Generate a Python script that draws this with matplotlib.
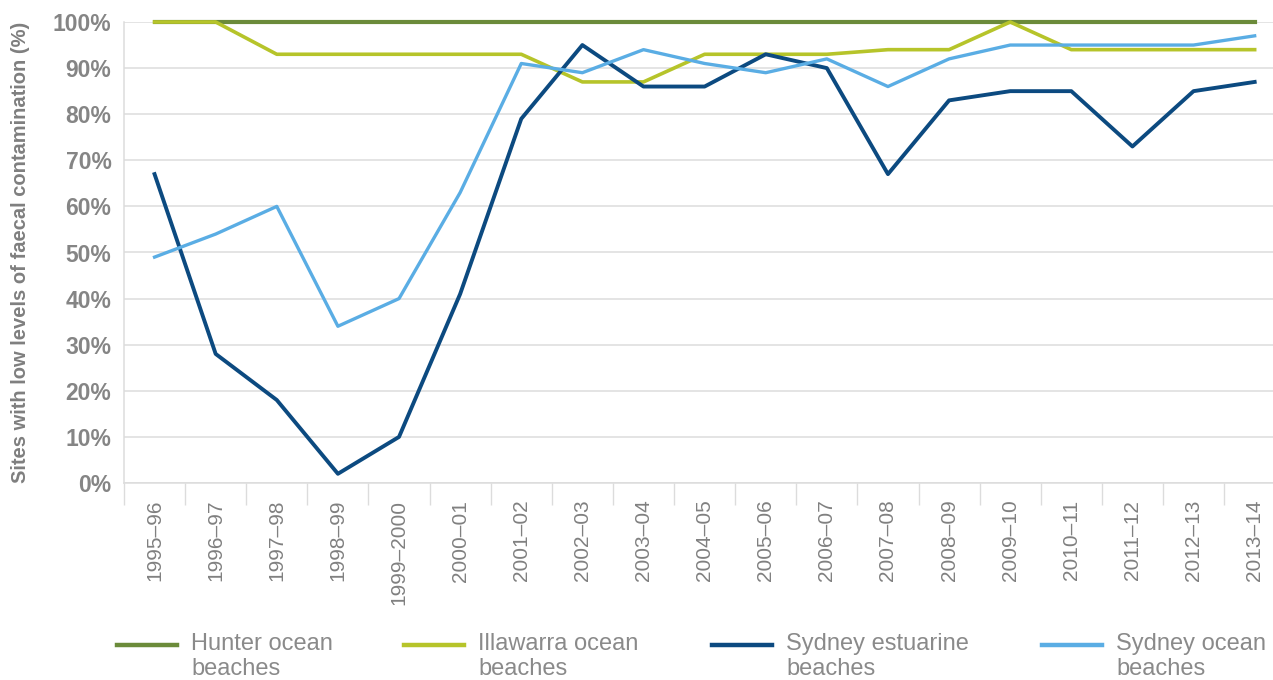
import matplotlib
matplotlib.use("Agg")
import matplotlib.pyplot as plt
from matplotlib.lines import Line2D

plt.rcParams['font.family'] = ['Liberation Sans', 'DejaVu Sans']

# 数据
years = ['1995–96', '1996–97', '1997–98', '1998–99', '1999–2000', '2000–01',
         '2001–02', '2002–03', '2003–04', '2004–05', '2005–06', '2006–07',
         '2007–08', '2008–09', '2009–10', '2010–11', '2011–12', '2012–13',
         '2013–14']
hunter = [100] * 19
illawarra = [100, 100, 93, 93, 93, 93, 93, 87, 87, 93, 93, 93, 94, 94, 100, 94, 94, 94, 94]
syd_estuarine = [67, 28, 18, 2, 10, 41, 79, 95, 86, 86, 93, 90, 67, 83, 85, 85, 73, 85, 87]
syd_ocean = [49, 54, 60, 34, 40, 63, 91, 89, 94, 91, 89, 92, 86, 92, 95, 95, 95, 95, 97]

series_labels = ['Hunter ocean\nbeaches', 'Illawarra ocean\nbeaches',
                 'Sydney estuarine\nbeaches', 'Sydney ocean\nbeaches']
series_colors = ['#6b8b3a', '#b6c42a', '#0c4a80', '#5aade4']
legend_x = [117, 404, 712, 1042]  # 图例起点 (像素)

W, H = 1273, 680
fig = plt.figure(figsize=(W / 100, H / 100), dpi=100)
ax_left = 124
ax = fig.add_axes([ax_left / W, 1 - 483 / H, 1 - ax_left / W, (483 - 22) / H])

x = list(range(len(years)))
for vals, col, lw in zip([hunter, illawarra, syd_estuarine, syd_ocean], series_colors,
                         [3.0, 2.6, 2.8, 2.4]):
    ax.plot(x, vals, color=col, lw=lw, clip_on=False, zorder=3)

ax.set_xlim(-0.5, 18.3)
ax.set_ylim(0, 100)
ax.set_yticks(range(0, 101, 10))
ax.set_yticklabels([f'{v}%' for v in range(0, 101, 10)], fontsize=16.5,
                   fontweight='bold', color='#858585')
ax.tick_params(axis='y', length=0, pad=9)
ax.grid(axis='y', color='#dcdcdc', lw=1.1)

ax.set_xticks(x)
ax.set_xticklabels(years, rotation=90, fontsize=15, color='#808080', va='top')
ax.tick_params(axis='x', which='major', length=0, pad=12)
ax.set_xticks([i - 0.5 for i in range(len(years))], minor=True)
ax.tick_params(axis='x', which='minor', length=16, width=1.0, color='#dcdcdc', direction='out')

for s in ['top', 'right']:
    ax.spines[s].set_visible(False)
for s in ['left', 'bottom']:
    ax.spines[s].set_color('#dcdcdc')
    ax.spines[s].set_linewidth(1.1)

ax.set_ylabel('Sites with low levels of faecal contamination (%)', fontsize=14.5,
              fontweight='bold', color='#7f7f7f')
ax.yaxis.set_label_coords((30 - ax_left) / (W - ax_left), 0.5)

# 图例 (手动绘制)
for lx, lab, col in zip(legend_x, series_labels, series_colors):
    fig.add_artist(Line2D([lx / W, (lx + 60) / W], [1 - 645 / H] * 2,
                          color=col, lw=3.2, transform=fig.transFigure))
    fig.text((lx + 74) / W, 1 - 633 / H, lab, fontsize=17, color='#8a8a8a',
             va='top', ha='left', linespacing=1.15)

fig.savefig('out.png', dpi=100)
